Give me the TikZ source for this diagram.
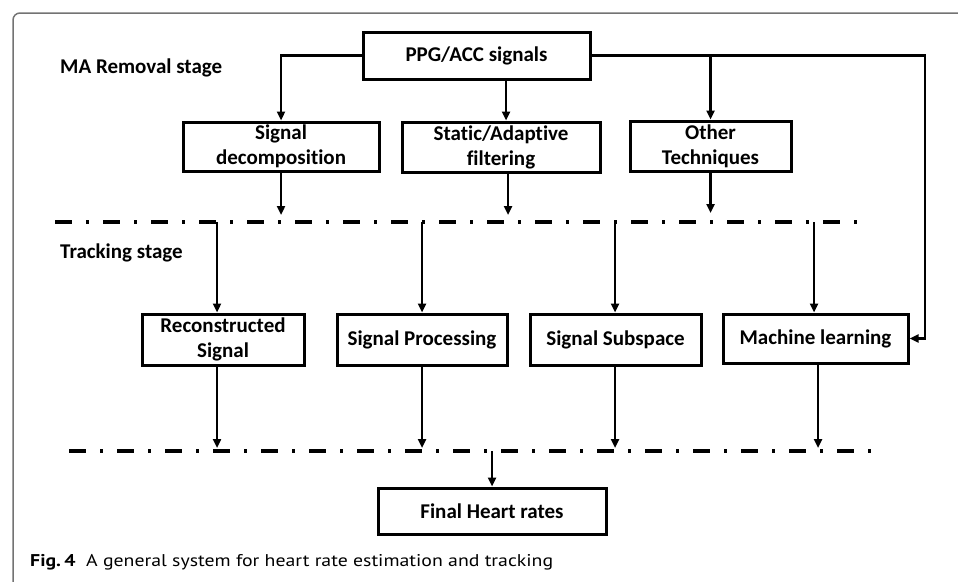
\documentclass[tikz,border=0pt]{standalone}
\usepackage{fontspec}
\setmainfont{Carlito}[Ligatures={NoCommon}]
\newfontfamily\capfont{PT Sans}
\usetikzlibrary{arrows.meta}
\begin{document}
\begin{tikzpicture}[x=1pt,y=-1pt,
  box/.style={draw, line width=3pt, inner sep=0pt, align=center,
    font=\fontsize{21}{25}\selectfont\bfseries},
  arr/.style={line width=2.4pt, -{Triangle[length=9pt,width=8pt]}},
  stagebar/.style={line width=4pt, dash pattern=on 17pt off 14pt on 3pt off 14pt},
  lbl/.style={anchor=west, inner sep=0pt, font=\fontsize{21}{25}\selectfont\bfseries},
  frameline/.style={draw=black!55, line width=1.5pt}]
\useasboundingbox (0,0) rectangle (958,581);
% frame
\draw[frameline] (13,585) -- (13,20) arc[start angle=180, end angle=270, radius=7] -- (960,13);
% stage labels
\node[lbl] (lma) at (60,68) {MA Removal stage};
\node[lbl] (ltr) at (60,253) {Tracking stage};
% boxes
\node[box, minimum width=227pt, minimum height=47pt] (ppg) at (476.5,55.5) {PPG/ACC signals};
\node[box, minimum width=196pt, minimum height=49pt] (dec) at (281,146.5) {Signal\\decomposition};
\node[box, minimum width=198pt, minimum height=50pt] (saf) at (501,147) {Static/Adaptive\\filtering};
\node[box, minimum width=161pt, minimum height=50pt] (oth) at (710.5,146) {Other\\Techniques};
\node[box, minimum width=162pt, minimum height=51pt] (rec) at (223,339.5) {Reconstructed\\Signal};
\node[box, minimum width=170pt, minimum height=51pt] (spr) at (422,339.5) {Signal Processing};
\node[box, minimum width=171pt, minimum height=51pt] (ssu) at (615.5,339.5) {Signal Subspace};
\node[box, minimum width=185pt, minimum height=49pt] (mlr) at (815.5,338.5) {Machine learning};
\node[box, minimum width=228pt, minimum height=46pt] (fin) at (492,511) {Final Heart rates};
% stage bars
\coordinate (b1l) at (55,222);
\coordinate (b1r) at (858,222);
\coordinate (b2l) at (69,451);
\coordinate (b2r) at (872,451);
\draw[stagebar] (b1l) -- (b1r);
\draw[stagebar] (b2l) -- (b2r);
% MA removal connectors
\coordinate (rc) at (925,55.5);
\draw[arr] (ppg.west) -| (dec.north);
\draw[arr] (ppg.east) -- (rc) |- (mlr.east);
\draw[arr] (oth.north |- ppg.east) -- (oth.north);
\coordinate (s1) at (506,79);
\draw[arr] (s1) -- (s1 |- saf.north);
% to bar 1
\coordinate (d1) at (281,215);
\coordinate (d2) at (508,215);
\coordinate (d3) at (710.5,213);
\draw[arr] (dec.south) -- (d1);
\draw[arr] (d2 |- saf.south) -- (d2);
\draw[arr] (oth.south) -- (d3);
% bar 1 to tracking boxes
\coordinate (t1) at (217,222);
\coordinate (t2) at (422,222);
\coordinate (t3) at (615,222);
\coordinate (t4) at (814,222);
\draw[arr] (t1) -- (t1 |- rec.north);
\draw[arr] (t2) -- (t2 |- spr.north);
\draw[arr] (t3) -- (t3 |- ssu.north);
\draw[arr] (t4) -- (t4 |- mlr.north);
% tracking boxes to bar 2
\coordinate (u1) at (217,448);
\coordinate (u2) at (422,448);
\coordinate (u3) at (615,448);
\coordinate (u4) at (818,448);
\draw[arr] (u1 |- rec.south) -- (u1);
\draw[arr] (u2 |- spr.south) -- (u2);
\draw[arr] (u3 |- ssu.south) -- (u3);
\draw[arr] (u4 |- mlr.south) -- (u4);
% bar 2 to final
\coordinate (f0) at (492,451);
\draw[arr] (f0) -- (fin.north);
% caption
\node[anchor=west, inner sep=0pt] (cap) at (30,562)
  {\resizebox{523pt}{\height}{\capfont\fontsize{17}{20}\selectfont\textbf{Fig.\,4}\ \ A general system for heart rate estimation and tracking}};
\end{tikzpicture}
\end{document}
